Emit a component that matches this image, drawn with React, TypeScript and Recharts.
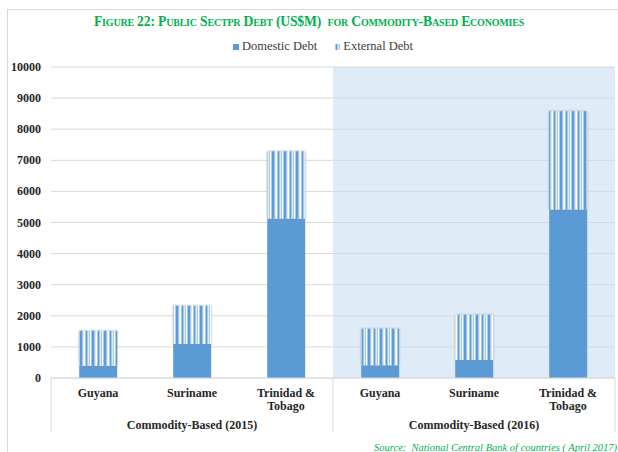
import React from 'react';
import { BarChart, Bar, XAxis, YAxis, CartesianGrid, ReferenceArea } from 'recharts';

const countries = ['Guyana', 'Suriname', 'Trinidad & Tobago', 'Guyana', 'Suriname', 'Trinidad & Tobago'];
const years = ['2015', '2015', '2015', '2016', '2016', '2016'];
const groupLabels = ['Commodity-Based (2015)', 'Commodity-Based (2016)'];
const domesticDebt = [390, 1090, 5130, 410, 580, 5420];
const externalDebt = [1130, 1230, 2160, 1170, 1450, 3160];
const yTicks = [0, 1000, 2000, 3000, 4000, 5000, 6000, 7000, 8000, 9000, 10000];
const seriesNames = ['Domestic Debt', 'External Debt'];

const data = countries.map((c, i) => ({
  key: `${years[i]}|${c}`,
  country: c,
  domestic: domesticDebt[i],
  external: externalDebt[i],
}));

const W = 618;
const H = 452;
const M = { top: 67, right: 3, left: 0, bottom: 14 };
const Y_W = 51;
const X_H = 60;
const PLOT_W = W - M.left - M.right - Y_W;
const HALF_BAND = PLOT_W / data.length / 2;

const SERIF = '"Liberation Serif", "Times New Roman", serif';
const BLUE = '#5B9BD5';
const GREEN = '#00B050';

const CatTick = (props: any) => {
  const { x, y, payload, index } = props;
  const name: string = data[index]?.country ?? payload.value;
  const lines = name === 'Trinidad & Tobago' ? ['Trinidad &', 'Tobago'] : [name];
  const groupIdx = Math.floor(index / 3);
  return (
    <g>
      {lines.map((l, i) => (
        <text key={i} x={x} y={y + 19 + i * 13} textAnchor="middle" fontFamily={SERIF} fontWeight="bold" fontSize={12} fill="#262626">
          {l}
        </text>
      ))}
      {index % 3 === 1 && (
        <text x={x} y={y + 51} textAnchor="middle" fontFamily={SERIF} fontWeight="bold" fontSize={12} fill="#262626">
          {groupLabels[groupIdx]}
        </text>
      )}
      {index % 3 === 0 && <line x1={x - HALF_BAND} x2={x - HALF_BAND} y1={y} y2={y + 54} stroke="#d9d9d9" />}
      {index === data.length - 1 && <line x1={x + HALF_BAND} x2={x + HALF_BAND} y1={y} y2={y + 54} stroke="#d9d9d9" />}
    </g>
  );
};

const ValTick = (props: any) => {
  const { x, y, payload } = props;
  return (
    <text x={x} y={y} dy={4} textAnchor="end" fontFamily={SERIF} fontWeight="bold" fontSize={12} fill="#262626">
      {payload.value}
    </text>
  );
};

export default function App() {
  return (
    <div style={{ position: 'fixed', left: 0, top: 0, width: W, height: H, overflow: 'hidden', background: '#fff' }}>
      <svg width={0} height={0} style={{ position: 'absolute' }}>
        <defs>
          <pattern id="extStripes" patternUnits="userSpaceOnUse" width={12} height={10}>
            <rect width={12} height={10} fill="#A9CBEA" />
            <rect x={0} width={1} height={10} fill="#ffffff" />
            <rect x={2} width={1} height={10} fill={BLUE} />
            <rect x={4} width={1} height={10} fill="#DEEBF7" />
            <rect x={6} width={1} height={10} fill="#ffffff" />
            <rect x={8} width={2} height={10} fill={BLUE} />
            <rect x={11} width={1} height={10} fill="#DEEBF7" />
          </pattern>
          <filter id="barShadow" x="-20%" y="-5%" width="140%" height="110%">
            <feDropShadow dx="0" dy="0" stdDeviation="1.2" floodColor="#7f7f7f" floodOpacity="0.6" />
          </filter>
        </defs>
      </svg>
      <div style={{ position: 'absolute', left: 7, top: 9, width: 640, height: 480, border: '1px solid #d9d9d9' }} />
      <div style={{ position: 'absolute', left: 0, top: 14, width: W, textAlign: 'center', fontFamily: SERIF, fontWeight: 'bold', fontSize: 13.7, letterSpacing: -0.2, color: GREEN, fontVariant: 'small-caps' }}>
        Figure 22: Public Sectpr Debt (US$M)&nbsp; for Commodity-Based Economies
      </div>
      <div style={{ position: 'absolute', left: 14, top: 39, width: W, display: 'flex', justifyContent: 'center', alignItems: 'center', fontFamily: SERIF, fontSize: 12.5, color: '#404040' }}>
        <span style={{ display: 'inline-block', width: 6, height: 6, background: BLUE, marginRight: 3 }} />
        <span style={{ marginRight: 17 }}>{seriesNames[0]}</span>
        <svg width={6} height={6} style={{ marginRight: 3 }}>
          <rect width={6} height={6} fill="url(#extStripes)" />
        </svg>
        <span>{seriesNames[1]}</span>
      </div>
      <div style={{ position: 'absolute', left: 0, top: 0 }}>
        <BarChart width={W} height={H} data={data} margin={M} barCategoryGap="30%">
          <ReferenceArea x1={data[3].key} x2={data[5].key} y1={0} y2={10000} fill="#c5dbf0" fillOpacity={0.55} stroke="none" ifOverflow="visible" />
          <CartesianGrid horizontal vertical={false} stroke="#d9d9d9" />
          <XAxis dataKey="key" height={X_H} axisLine={{ stroke: '#d9d9d9' }} tickLine={false} tickSize={0} tickMargin={0} interval={0} tick={<CatTick />} />
          <YAxis width={Y_W} domain={[0, 10000]} ticks={yTicks} axisLine={false} tickLine={false} tickSize={0} tickMargin={10} interval={0} tick={<ValTick />} />
          <Bar dataKey="domestic" name={seriesNames[0]} stackId="a" fill={BLUE} isAnimationActive={false} />
          <Bar dataKey="external" name={seriesNames[1]} stackId="a" fill="url(#extStripes)" filter="url(#barShadow)" isAnimationActive={false} />
        </BarChart>
      </div>
      <div style={{ position: 'absolute', right: 1, top: 442, fontFamily: SERIF, fontStyle: 'italic', fontSize: 10.5, color: GREEN, whiteSpace: 'pre' }}>
        {'Source:  National Central Bank of countries ( April 2017)'}
      </div>
    </div>
  );
}
